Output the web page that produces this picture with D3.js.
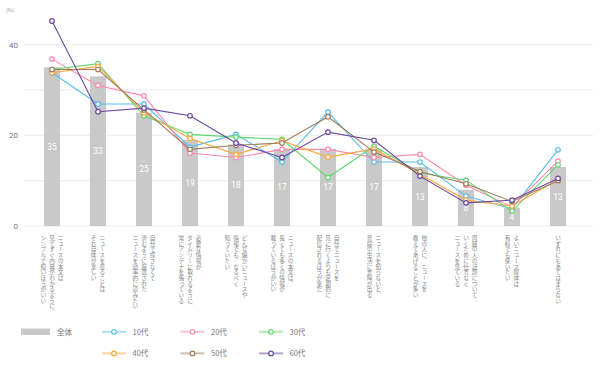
<!DOCTYPE html>
<html><head><meta charset="utf-8">
<script src="https://cdn.jsdelivr.net/npm/d3@7"></script>
<style>
html,body{margin:0;padding:0;background:#fff;}
svg{display:block;font-family:"Noto Sans CJK JP","Noto Sans",sans-serif;}
</style></head>
<body><svg id="c" width="600" height="366"></svg>
<script>
const categories = [
  ["ニュースの本文は", "見てすぐ内容がわかるように、", "シンプルで短いほうがいい"],
  ["ニュースを見ることは", "それ自体が楽しい"],
  ["自分で探さなくて", "済むように厳選された", "ニュースを効率的に読みたい"],
  ["必要な情報が", "タイムリーに取れるように、", "常にアンテナを張っている"],
  ["どんな細かいニュースや", "情報でも、なるべく", "知っていたい"],
  ["ニュースの本文は、", "長くても多くの情報が", "載っているほうがいい"],
  ["自分でニュースを", "見に行くよりも定期的に", "配信されるほうが楽だ"],
  ["ニュースを知らないと、", "普段の生活に支障が出る"],
  ["他の人に、ニュースを", "教えてあげることが多い"],
  ["周囲の人の話題について", "いくために仕方なく", "ニュースを見ている"],
  ["よいニュース媒体は", "有料でも使いたい"],
  ["いずれにもあてはまらない"]
];
const totalName = "全体";
const totalValues = [35, 33, 25, 19, 18, 17, 17, 17, 13, 8, 4, 13];
const seriesNames = ["10代", "20代", "30代", "40代", "50代", "60代"];
const v10 = [33.8, 26.9, 26.9, 17.4, 20.2, 14.1, 25.1, 14.1, 14.1, 6.6, 3.8, 16.8];
const v20 = [36.8, 31.0, 28.7, 16.1, 15.1, 16.9, 16.9, 15.1, 15.8, 9.0, 4.2, 14.3];
const v30 = [34.5, 35.8, 24.3, 20.2, 19.6, 19.1, 10.7, 17.6, 11.7, 10.1, 3.3, 13.5];
const v40 = [33.8, 35.2, 25.0, 19.3, 15.8, 18.8, 15.2, 17.0, 11.4, 5.7, 4.4, 10.2];
const v50 = [34.5, 34.5, 25.6, 16.9, 17.8, 18.3, 24.1, 16.3, 12.0, 9.3, 5.4, 10.0];
const v60 = [45.2, 25.2, 26.0, 24.3, 18.3, 15.1, 20.7, 18.9, 11.0, 5.1, 5.7, 10.5];
const seriesValues = [v10, v20, v30, v40, v50, v60];
const colors = ["#55bde9", "#ff88ad", "#5fd86f", "#ffa63a", "#a07c5c", "#6a48a0"];
const yTicks = [0, 20, 40];
const yGrid = [0, 10, 20, 30, 40];

const svg = d3.select("#c");
const idx = d3.range(categories.length);
const x = d3.scaleBand().domain(idx).range([29, 581]).padding(0);
const cx = i => x(i) + x.bandwidth() / 2;
const y = d3.scaleLinear().domain([0, 40]).range([226, 44.6]);
const barW = 16;

// grid
svg.append("g").selectAll("line").data(yGrid).join("line")
  .attr("x1", 24).attr("x2", 593)
  .attr("y1", d => y(d)).attr("y2", d => y(d))
  .attr("stroke", "#efefef").attr("stroke-width", 1.2);

// y axis labels
const yAxis = d3.axisLeft(y).tickValues(yTicks).tickSize(0).tickPadding(0);
const ga = svg.append("g").attr("transform", "translate(18,0)").call(yAxis);
ga.select(".domain").remove();
ga.selectAll("text").attr("fill", "#777").attr("font-size", 8).attr("font-family", "Roboto, 'Noto Sans', sans-serif");
svg.append("text").attr("x", 6).attr("y", 12).attr("font-size", 5).attr("fill", "#999").text("(%)");

// bars
svg.append("g").selectAll("rect").data(totalValues).join("rect")
  .attr("x", (d, i) => cx(i) - barW / 2).attr("width", barW)
  .attr("y", d => y(d)).attr("height", d => y(0) - y(d))
  .attr("fill", "#c9c9c9");
svg.append("g").selectAll("text").data(totalValues).join("text")
  .attr("x", (d, i) => cx(i))
  .attr("y", d => Math.min((y(d) + y(0)) / 2, y(0) - 8) + 3)
  .attr("text-anchor", "middle").attr("fill", "#fff").attr("font-size", 8.5)
  .attr("font-family", "Roboto, 'Noto Sans', sans-serif")
  .text(d => d);

// lines
const line = d3.line().x((d, i) => cx(i)).y(d => y(d));
seriesValues.forEach((vals, s) => {
  const g = svg.append("g");
  g.append("path").datum(vals).attr("d", line).attr("fill", "none")
    .attr("stroke", colors[s]).attr("stroke-width", 1.1);
  g.selectAll("circle").data(vals).join("circle")
    .attr("cx", (d, i) => cx(i)).attr("cy", d => y(d)).attr("r", 2.3)
    .attr("fill", "#fff").attr("stroke", colors[s]).attr("stroke-width", 1.2);
});

// category labels (vertical)
const colGap = 8.6;
categories.forEach((lines, i) => {
  const n = lines.length;
  lines.forEach((t, j) => {
    const xx = cx(i) + ((n - 1) / 2 - j) * colGap;
    svg.append("text")
      .attr("x", xx).attr("y", 235)
      .style("writing-mode", "vertical-rl")
      .attr("font-size", 5.7).attr("fill", "#888")
      .text(t);
  });
});

// legend
const leg = svg.append("g");
leg.append("rect").attr("x", 21).attr("y", 328.5).attr("width", 29).attr("height", 6.5).attr("fill", "#c9c9c9");
leg.append("text").attr("x", 57).attr("y", 334.5).attr("font-size", 7.5).attr("fill", "#777").text(totalName);
seriesNames.forEach((name, s) => {
  const col = s % 3, row = Math.floor(s / 3);
  const lx = 102 + col * 78.5, ly = 331.8 + row * 21.6;
  leg.append("line").attr("x1", lx).attr("x2", lx + 24).attr("y1", ly).attr("y2", ly)
    .attr("stroke", colors[s]).attr("stroke-width", 2).attr("stroke-opacity", 0.5);
  leg.append("circle").attr("cx", lx + 12).attr("cy", ly).attr("r", 2.3)
    .attr("fill", "#fff").attr("stroke", colors[s]).attr("stroke-width", 1.2);
  leg.append("text").attr("x", lx + 30.5).attr("y", ly + 2.8).attr("font-size", 7.5)
    .attr("fill", "#777").text(name);
});
</script></body></html>
